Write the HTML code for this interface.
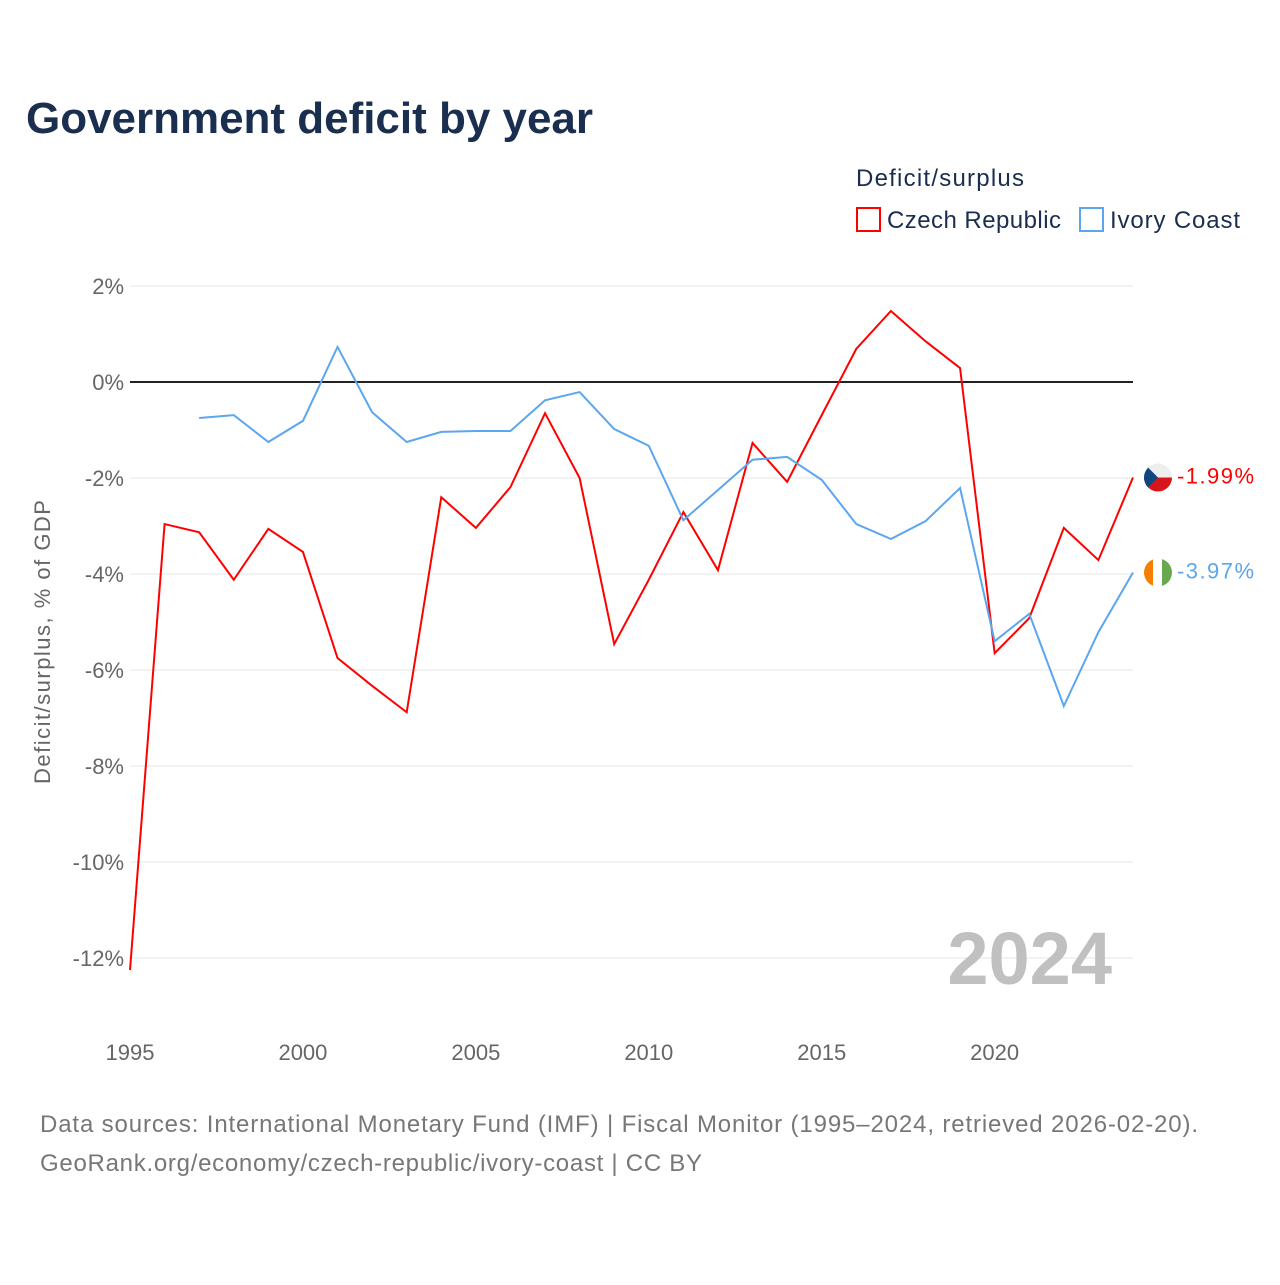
<!DOCTYPE html>
<html><head><meta charset="utf-8"><style>
body{margin:0;background:#fff;width:1280px;height:1280px;overflow:hidden;font-family:"Liberation Sans",sans-serif}
</style></head><body>
<svg width="1280" height="1280" id="chart" xmlns="http://www.w3.org/2000/svg" font-family="Liberation Sans, sans-serif">
<text x="26" y="133" font-size="44" font-weight="bold" fill="#1a2e4f" textLength="567">Government deficit by year</text>
<text x="856" y="186" font-size="24" fill="#1a2e4f" textLength="168">Deficit/surplus</text>
<g><rect x="857" y="208" width="23" height="23" fill="none" stroke="#ff0000" stroke-width="2"/><text x="887" y="228" font-size="24" fill="#1a2e4f" textLength="174">Czech Republic</text></g>
<g><rect x="1080" y="208" width="23" height="23" fill="none" stroke="#5ba6ee" stroke-width="2"/><text x="1110" y="228" font-size="24" fill="#1a2e4f" textLength="130">Ivory Coast</text></g>
<g id="grid"></g><g id="yticks"></g><g id="xticks"></g>
<text x="1112" y="984" font-size="74" font-weight="bold" fill="#c0c0c0" text-anchor="end">2024</text>
<text transform="translate(50,642) rotate(-90)" font-size="22" fill="#666" text-anchor="middle" textLength="284">Deficit/surplus, % of GDP</text>
<g id="series"></g>
<text x="40" y="1132" font-size="24" fill="#777" textLength="1158">Data sources: International Monetary Fund (IMF) | Fiscal Monitor (1995–2024, retrieved 2026-02-20).</text>
<text x="40" y="1171" font-size="24" fill="#777" textLength="662">GeoRank.org/economy/czech-republic/ivory-coast | CC BY</text>
</svg>
<script>
const years=[1995,1996,1997,1998,1999,2000,2001,2002,2003,2004,2005,2006,2007,2008,2009,2010,2011,2012,2013,2014,2015,2016,2017,2018,2019,2020,2021,2022,2023,2024];
const czech=[-12.25,-2.96,-3.13,-4.12,-3.06,-3.54,-5.75,-6.33,-6.88,-2.40,-3.04,-2.19,-0.65,-2.0,-5.46,-4.12,-2.71,-3.92,-1.27,-2.08,-0.69,0.69,1.48,0.85,0.29,-5.65,-4.92,-3.04,-3.71,-1.99];
const ivory=[null,null,-0.75,-0.69,-1.25,-0.81,0.73,-0.63,-1.25,-1.04,-1.02,-1.02,-0.38,-0.21,-0.98,-1.33,-2.88,-2.25,-1.62,-1.56,-2.04,-2.96,-3.27,-2.90,-2.21,-5.40,-4.83,-6.75,-5.21,-3.97];
const yTicks=[2,0,-2,-4,-6,-8,-10,-12];
const xTicks=[1995,2000,2005,2010,2015,2020];
const NS='http://www.w3.org/2000/svg';
const X=y=>130+(y-1995)*(1133-130)/29;
const Y=v=>382-v*48;
function mk(t,a,p){const e=document.createElementNS(NS,t);for(const k in a)e.setAttribute(k,a[k]);document.getElementById(p).appendChild(e);return e;}
yTicks.forEach(v=>{
 const l=mk('line',{x1:130,x2:1133,y1:Y(v),y2:Y(v),stroke:v===0?'#222':'#e6e6e6','stroke-width':v===0?2:1},'grid');
 
 
 const t=mk('text',{x:124,y:Y(v)+8,'font-size':22,fill:'#666','text-anchor':'end'},'yticks');
 t.textContent=v+'%';
 
 
});
xTicks.forEach(yr=>{
 const t=mk('text',{x:X(yr),y:1060,'font-size':22,fill:'#666','text-anchor':'middle'},'xticks');
 t.textContent=yr;
 
 
});
function line(data,color,name,flag){
 let d='';data.forEach((v,i)=>{if(v===null)return;d+=(d?'L':'M')+X(years[i])+','+Y(v);});
 const p=mk('path',{d:d,fill:'none',stroke:color,'stroke-width':2},'series');
 
 
 const last=data[data.length-1],cy=Y(last);
 const g=mk('g',{},'series');
 
 
 g.innerHTML=flag(cy);
 const t=mk('text',{x:1177,y:cy+6,'font-size':22,fill:color,textLength:77},'series');
 t.textContent=last.toFixed(2)+'%';
 
 
}
line(czech,'#ff0000','czech',cy=>`<clipPath id="cc"><circle cx="1158" cy="${cy}" r="14"/></clipPath><g clip-path="url(#cc)"><rect x="1144" y="${cy-14}" width="28" height="14" fill="#eee"/><rect x="1144" y="${cy}" width="28" height="14" fill="#d7141a"/><polygon points="1144,${cy-14} 1158,${cy} 1144,${cy+14}" fill="#11457e"/></g>`);
line(ivory,'#5ba6ee','ivory',cy=>`<clipPath id="ci"><circle cx="1158" cy="${cy}" r="14"/></clipPath><g clip-path="url(#ci)"><rect x="1144" y="${cy-14}" width="10" height="28" fill="#f77f00"/><rect x="1153" y="${cy-14}" width="10" height="28" fill="#fff"/><rect x="1162" y="${cy-14}" width="10" height="28" fill="#6aa84f"/></g>`);
</script>
</body></html>
